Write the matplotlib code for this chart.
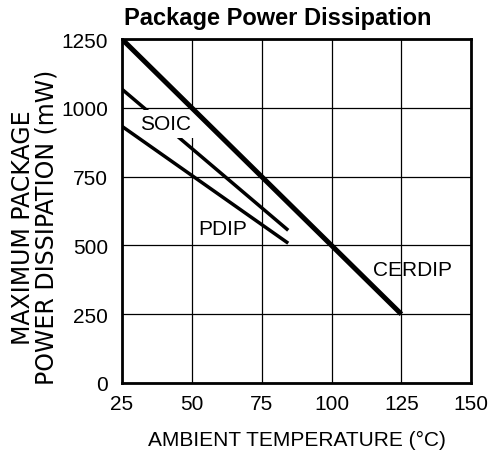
import matplotlib
matplotlib.use("Agg")
import matplotlib.pyplot as plt

plt.rcParams['font.family'] = ['Liberation Sans', 'DejaVu Sans']

x_ticks = [25, 50, 75, 100, 125, 150]
y_ticks = [0, 250, 500, 750, 1000, 1250]

cerdip_t = [25, 125]
cerdip_p = [1250, 250]
soic_t = [25, 84.5]
soic_p = [1068, 555]
pdip_t = [25, 84.5]
pdip_p = [933, 508]

fig = plt.figure(figsize=(5.04, 4.56), dpi=100)
ax = fig.add_axes([0.242, 0.158, 0.693, 0.754])

ax.set_xlim(25, 150)
ax.set_ylim(0, 1250)
ax.set_xticks(x_ticks)
ax.set_yticks(y_ticks)
ax.grid(True, color='black', linewidth=0.9)
ax.tick_params(length=0, labelsize=15)
ax.tick_params(axis='y', pad=10)
ax.tick_params(axis='x', pad=8)
for s in ax.spines.values():
    s.set_linewidth(2)
    s.set_zorder(6)

ax.plot(cerdip_t, cerdip_p, color='black', linewidth=3.6, solid_capstyle='butt', zorder=5)
ax.plot(soic_t, soic_p, color='black', linewidth=2.5, solid_capstyle='butt', zorder=3)
ax.plot(pdip_t, pdip_p, color='black', linewidth=2.5, solid_capstyle='butt', zorder=5)

ax.text(40.7, 942, 'SOIC', fontsize=15, ha='center', va='center', zorder=4,
        bbox=dict(facecolor='white', edgecolor='none', pad=3))
ax.text(61.2, 560, 'PDIP', fontsize=15, ha='center', va='center', zorder=4)
ax.text(128.9, 412, 'CERDIP', fontsize=15, ha='center', va='center', zorder=4)

ax.set_title('Package Power Dissipation', fontsize=17, fontweight='bold', pad=11, x=0.447)
ax.set_xlabel('AMBIENT TEMPERATURE (°C)', fontsize=15, labelpad=12)
ax.set_ylabel('MAXIMUM PACKAGE\nPOWER DISSIPATION (mW)', fontsize=17,
              family=['DejaVu Sans'], linespacing=0.95)
ax.yaxis.set_label_coords(-0.183, 0.455)

fig.savefig('out.png', dpi=100)
